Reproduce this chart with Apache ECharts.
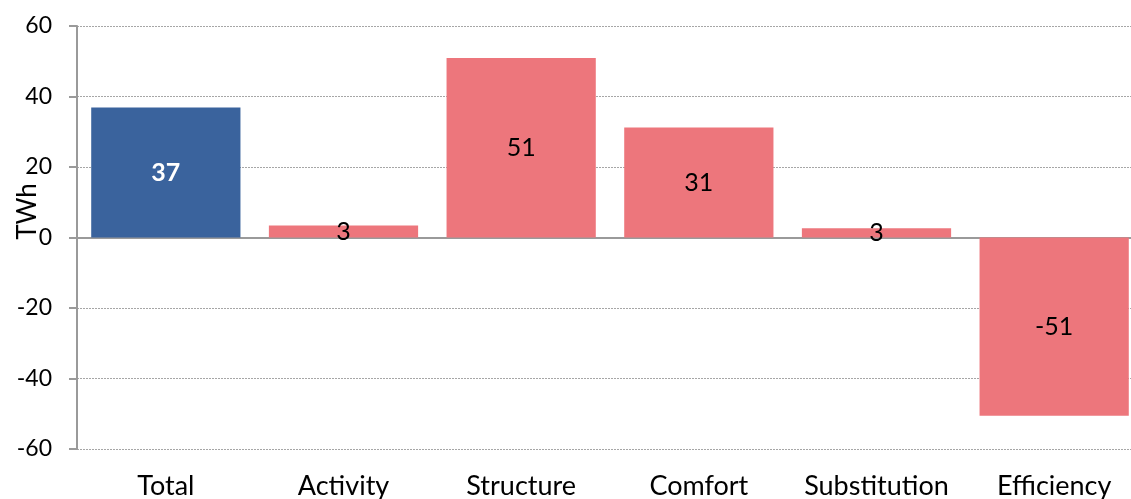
<!DOCTYPE html>
<html>
<head>
<meta charset="utf-8">
<script src="https://cdn.jsdelivr.net/npm/echarts@6/dist/echarts.min.js"></script>
<style>
html, body { margin: 0; padding: 0; background: #fff; }
#chartDiv { width: 1131px; height: 499px; }
</style>
</head>
<body>
<div id="chartDiv"></div>
<script>
// 数据
var categories = ['Total', 'Activity', 'Structure', 'Comfort', 'Substitution', 'Efficiency'];
var values = [36.9, 3.4, 50.9, 31.2, 2.6, -50.6];
var labels = ['37', '3', '51', '31', '3', '-51'];
var yTicks = [-60, -40, -20, 0, 20, 40, 60];

var blue = '#3A639D';
var pink = '#ED767C';
var font = 'Lato, "Open Sans", sans-serif';

var myChart = echarts.init(document.getElementById('chartDiv'));

var barData = [];
for (var i = 0; i < values.length; i++) {
    var isTotal = i === 0;
    barData.push({
        value: values[i],
        itemStyle: { color: isTotal ? blue : pink },
        label: {
            formatter: labels[i],
            color: isTotal ? '#fff' : '#000',
            fontWeight: isTotal ? 'bold' : 'normal'
        }
    });
}

myChart.setOption({
    animation: false,
    textStyle: { fontFamily: font },
    grid: { left: 77, right: -12, top: 26, bottom: 50, containLabel: false, outerBoundsMode: 'none' },
    xAxis: [{
        type: 'category',
        data: categories,
        axisLine: { show: false, onZero: false },
        axisTick: { show: false },
        axisLabel: { interval: 0, hideOverlap: false, fontSize: 27, color: '#000', margin: 24, fontFamily: font }
    }, {
        // 零线
        type: 'category',
        data: categories,
        position: 'bottom',
        axisLine: { show: true, onZero: true, lineStyle: { color: '#9a9a9a', width: 2 } },
        axisTick: { show: false },
        axisLabel: { show: false }
    }],
    yAxis: {
        type: 'value',
        min: yTicks[0],
        max: yTicks[yTicks.length - 1],
        interval: 20,
        name: 'TWh',
        nameLocation: 'middle',
        nameGap: 36,
        nameMoveOverlap: false,
        nameRotate: 90,
        nameTextStyle: { fontSize: 26, color: '#000', padding: [0, 0, 0, 52], fontFamily: font },
        axisLine: { show: true, lineStyle: { color: '#9a9a9a', width: 2 } },
        axisTick: { show: true, length: 8, lineStyle: { color: '#9a9a9a', width: 2 } },
        axisLabel: { fontSize: 23, color: '#000', margin: 25, fontFamily: font },
        splitLine: { show: true, lineStyle: { color: '#a6a6a6', type: [2, 1], width: 1 } }
    },
    series: [{
        type: 'bar',
        xAxisIndex: 0,
        barWidth: '84%',
        label: { show: true, position: 'inside', fontSize: 25, fontFamily: font },
        data: barData,
        z: 1
    }]
});
</script>
</body>
</html>
